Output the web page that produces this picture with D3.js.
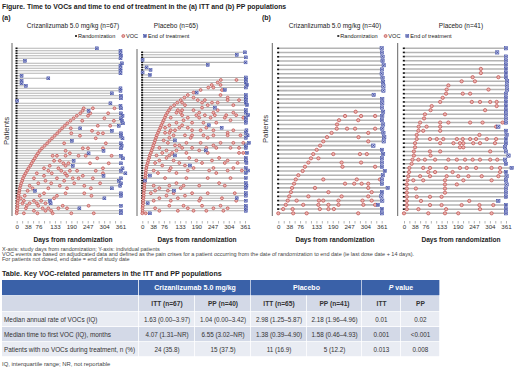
<!DOCTYPE html>
<html>
<head>
<meta charset="utf-8">
<script src="https://cdn.jsdelivr.net/npm/d3@7"></script>
<style>
  body { margin: 0; background: #fff; }
  svg { display: block; font-family: "Liberation Sans", Arial, sans-serif; }
</style>
</head>
<body>
<svg id="chart" width="520" height="368"></svg>
<script>
// each row: [end of treatment day, VOC day, VOC day, ...], listed top to bottom
var critItt = [
  [279],[361],[361],[363],[361],[29],[366],[361],[361],[361],[361],[17],[110],[17],[17],[32],
  [361],[361],[331],[363],[363],[2],[326],[361],
  [363,233,265,340],[250,229],[363,221,256,318],[368,209,248],[363,198,305],[366,187,228,338],
  [370,176],[355,167,282,325],[221,158,188],[331,149,262],[363,141,190,283,300],[363,132,220],
  [368,123,275],[192,114],[363,106,165,310],[365,97],[363,88,230,248,300],[302,80,170],
  [250,74,185],[363,68,125,140,170,215,240,330],[370,63,280],[198,57,130,150],
  [363,52,162,180,255,320],[195,47,115,170],[368,41,95,145,300],[363,36,110,155,185,210,275],
  [378,31,70,122,168,300],[302,26,95,175,230],[363,22,60,140,195,215,265],[355,19,100,165],
  [363,16,75,120,200,290],[360,13,45,150,235],[331,11,55,110,175,258],[64,9,38],
  [363,8,95,170,235],[363,6,28,80,140,260],[305,5,14,130],[116,4,25,60,85],
  [118,3,20,45,70,100],[363,3,35,75,160,250],[218,2,32,90,110,145,175],[363,1,60,100,120],
  [363,0,25,72,125,190,268]
];
var placeboItt = [
  [361],[332],[364],[1],[363],[230],[15],[29],[1],[27],[364],
  [364,276,331],[364,265],[368,244,275],[364,232,250],[290,205,280],[191,180],[364,160,275],
  [364,148,180,300],[364,135,195,220,300,340],[364,123,140,210,245,265],[368,112,150,230,320],
  [255,100,210],[364,94,125,140,180,265],[364,88,120,135,200,250,320],
  [372,83,140,190,220,255,295,330],[364,79,100,160,200,240,290,355],[364,75,145,310],
  [364,71,120,175,215,260],[234,67,95,140],[279,63,80,130,160,225],
  [366,59,100,115,175,205,250,320],[364,55,80,95,300],[370,51,110,150,175,215,250,300,345],
  [364,48,95,170,230],[115,45,75],[375,42,90,155,205,275,320,355],[364,39,115,130,250],
  [364,36,60,140,175,225,260,310,340],[223,33,85,120,200],[368,30,70,105,155,230,340,355],
  [115,26,50,95],[364,24,85,165,270],[364,21,60,110,190,245,300],[366,19,45,130,210,290,335],
  [168,16,70,150],[364,14,100,180,250,320],[372,13,40,95,160,235,300,350],[364,12,55,120,260],
  [27,11],[364,10,80,155,230,310],[10,9],[364,8,120,270],[366,7,40,95,145,200,290],
  [364,7,60,135],[112,6,45,90],[364,5,30,110,175,230,325],[364,5,85,150],
  [332,4,60,125,205,280],[364,3,40,100,200,330],[19,3],[364,2,95,145,210,275],
  [364,1,45,160,250,300],[364,1,60,125,180,225,285],[27,0,12]
];
var critPp = [
  [361],[362],[364],[364],[368],[362],[361],[364],[366],[367],[367],[333],[363],[363],[362],
  [366,270],[363,233,289,338],[362,212,279],[366,205],[363,204,240,268,338],[367,186,314],
  [370,170,280],[368,157,314],[332,146],[362,134],[366,122,192,285,309],[362,114,140],
  [362,105,221,289],[362,93,224,338],[372,85],[365,70],[362,61,157,274,355],
  [362,55,233,265,291,314],[382,48,128,314],[362,44,175,326],[360,38,105,221,314],
  [363,33,64,142,157,210,294,326],[348,26,87,140,175,210,297,338],[362,17,50,145,175,194],
  [362,0,52,99,279]
];
var placeboPp = [
  [361],[330],[361],[361],[361],
  [361,272],[361,272],[361,243,334],[365,204,251],[364,157],[365,151,299],[361,149,208,234],
  [361,137],[361,128,240,269,305,328],[361,98,328],[361,94,287],[361,74,145],[361,71],
  [361,57,128,157,234,278,349],[334,52,80,128,326],[361,51,68,128],[363,45,267],
  [361,45,92,116,139,187,208,234,255,293,326],[361,39,128,175,198,210,245,269,322],
  [358,39,198,210],[361,35,92,128,305],[370,35,94],
  [358,30,51,74,110,157,187,216,243,269,305,330],[361,27],
  [381,19,68,92,149,198,222,255,310,340],[361,18,86,110,172,340],
  [363,15,57,92,151,192,228,275,334],[361,12,33,68,145,210,310],[363,10,145,187],
  [361,10,42,145],[361,10,145],[361,10,45,92,133],[334,10,60,231],[361,10,92,133,204,267,316],
  [361,10,51,149,269],[361,0,86,145,192,310]
];
var panelTitles = ["Crizanlizumab 5.0 mg/kg (n=67)", "Placebo (n=65)", "Crizanlizumab 5.0 mg/kg (n=40)", "Placebo (n=41)"];
var tickDays = d3.range(0, 362, 19);
var tickLabels = [0, 38, 76, 133, 190, 247, 304, 361];

var tableHead = ["Crizanlizumab 5.0 mg/kg", "Placebo", "P value"];
var tableSub = ["ITT (n=67)", "PP (n=40)", "ITT (n=65)", "PP (n=41)", "ITT", "PP"];
var tableLabels = ["Median annual rate of VOCs (IQ)", "Median time to first VOC (IQ), months", "Patients with no VOCs during treatment, n (%)"];
var tableValues = [
  ["1.63 (0.00\u20133.97)", "1.04 (0.00\u20133.42)", "2.98 (1.25\u20135.87)", "2.18 (1.96\u20134.96)", "0.01", "0.02"],
  ["4.07 (1.31\u2013NR)", "6.55 (3.02\u2013NR)", "1.38 (0.39\u20134.90)", "1.58 (0.46\u20134.93)", "0.001", "<0.001"],
  ["24 (35.8)", "15 (37.5)", "11 (16.9)", "5 (12.2)", "0.013", "0.008"]
];

var svg = d3.select("#chart");
svg.append("rect").attr("width", 520).attr("height", 368).attr("fill", "#fff");

svg.append("text").attr("x", 2).attr("y", 8.5)
  .style("font-size", "6.9px").style("font-weight", "bold").attr("fill", "#222")
  .text("Figure. Time to VOCs and time to end of treatment in the (a) ITT and (b) PP populations");
svg.append("text").attr("x", 2).attr("y", 19.5).style("font-size", "7px").style("font-weight", "bold").attr("fill", "#222").text("(a)");
svg.append("text").attr("x", 262).attr("y", 19.5).style("font-size", "7px").style("font-weight", "bold").attr("fill", "#222").text("(b)");

var panels = [
  { data: critItt, x0: 16.7, x1: 120.5, top: 48.3, bot: 213.3, axisX: 12, axisTop: 43, tx: 73, dx: 73, dense: true },
  { data: placeboItt, x0: 142.3, x1: 245, top: 52.3, bot: 213.3, axisX: 137, axisTop: 49, tx: 176, dx: 197, dense: true },
  { data: critPp, x0: 278.3, x1: 381.7, top: 48.3, bot: 213.3, axisX: 272.3, axisTop: 43, tx: 335, dx: 335, dense: false },
  { data: placeboPp, x0: 404, x1: 506, top: 48.3, bot: 213.3, axisX: 397.7, axisTop: 43, tx: 461, dx: 461, dense: false }
];

panels.forEach(function (p, pi) {
  var x = d3.scaleLinear().domain([0, 361]).range([p.x0, p.x1]);
  var y = d3.scaleLinear().domain([0, p.data.length - 1]).range([p.top, p.bot]);
  var g = svg.append("g");
  var lw = p.dense ? 1.1 : 1.6;
  var r = p.dense ? 1.45 : 1.65;
  var s = p.dense ? 2.9 : 3.3;

  svg.append("text").attr("x", p.tx).attr("y", 28).attr("text-anchor", "middle")
    .style("font-size", "6.5px").attr("fill", "#222").text(panelTitles[pi]);

  // y axis line
  g.append("line").attr("x1", p.axisX).attr("x2", p.axisX)
    .attr("y1", p.axisTop).attr("y2", 216).attr("stroke", "#555").attr("stroke-width", 0.9);

  // patient lines
  g.selectAll(".bar").data(p.data).enter().append("line")
    .attr("x1", x(0)).attr("x2", function (d) { return x(d[0]); })
    .attr("y1", function (d, i) { return y(i); }).attr("y2", function (d, i) { return y(i); })
    .attr("stroke", "#b4b4b4").attr("stroke-width", lw);

  // randomization
  g.selectAll(".rnd").data(p.data).enter().append("rect")
    .attr("x", x(0) - 1.2).attr("y", function (d, i) { return y(i) - 0.8; })
    .attr("width", 2).attr("height", 1.6).attr("fill", "#111");

  // VOCs
  var vocs = [];
  p.data.forEach(function (d, i) { d.slice(1).forEach(function (v) { vocs.push([v, i]); }); });
  g.selectAll(".voc").data(vocs).enter().append("circle")
    .attr("cx", function (d) { return x(d[0]); }).attr("cy", function (d) { return y(d[1]); })
    .attr("r", r).attr("fill", "#e9aeab").attr("stroke", "#c0504d").attr("stroke-width", 0.7);

  // end of treatment
  var eot = g.selectAll(".eot").data(p.data).enter().append("g")
    .attr("transform", function (d, i) { return "translate(" + x(d[0]) + "," + y(i) + ")"; });
  eot.append("rect").attr("x", -s / 2).attr("y", -s / 2).attr("width", s).attr("height", s)
    .attr("fill", "#c9cdee").attr("stroke", "#2f3f9e").attr("stroke-width", 0.5);
  eot.append("path").attr("d", "M" + (-s / 2 + 0.5) + "," + (-s / 2 + 0.5) + "L" + (s / 2 - 0.5) + "," + (s / 2 - 0.5) +
      "M" + (s / 2 - 0.5) + "," + (-s / 2 + 0.5) + "L" + (-s / 2 + 0.5) + "," + (s / 2 - 0.5))
    .attr("stroke", "#2b3890").attr("stroke-width", 0.7);

  // x axis
  var ax = g.append("g").attr("transform", "translate(0,221)")
    .call(d3.axisBottom(x).tickValues(tickDays).tickSize(2.5).tickPadding(1.5)
      .tickFormat(function (d) { return tickLabels.indexOf(d) >= 0 ? d : ""; }));
  ax.select(".domain").remove();
  ax.selectAll("line").attr("stroke", "#666").attr("stroke-width", 0.5);
  ax.selectAll("text").style("font-size", "6.2px").attr("fill", "#333").style("font-family", "Liberation Sans, Arial, sans-serif");

  svg.append("text").attr("x", p.dx).attr("y", 241.5).attr("text-anchor", "middle")
    .style("font-size", "6.6px").style("font-weight", "bold").attr("fill", "#222").text("Days from randomization");
});

// legends
function legend(x0) {
  var lg = svg.append("g").attr("transform", "translate(" + x0 + ",36)");
  lg.append("rect").attr("x", -1).attr("y", -0.8).attr("width", 2).attr("height", 1.6).attr("fill", "#111");
  lg.append("text").attr("x", 2).attr("y", 2).style("font-size", "5.6px").attr("fill", "#222").text("Randomization");
  lg.append("circle").attr("cx", 47.3).attr("cy", 0).attr("r", 1.5).attr("fill", "#e9aeab").attr("stroke", "#c0504d").attr("stroke-width", 0.7);
  lg.append("text").attr("x", 50).attr("y", 2).style("font-size", "5.6px").attr("fill", "#222").text("VOC");
  lg.append("rect").attr("x", 67.5).attr("y", -1.5).attr("width", 3).attr("height", 3).attr("fill", "#c9cdee").attr("stroke", "#2f3f9e").attr("stroke-width", 0.5);
  lg.append("path").attr("d", "M68,-1L70,1M70,-1L68,1").attr("stroke", "#2b3890").attr("stroke-width", 0.7);
  lg.append("text").attr("x", 72).attr("y", 2).style("font-size", "5.6px").attr("fill", "#222").text("End of treatment");
}
legend(76);
legend(338.3);

// Patients labels
[[6, 131], [265, 129]].forEach(function (c) {
  svg.append("text").attr("transform", "translate(" + (c[0] + 2.5) + "," + c[1] + ")rotate(-90)")
    .attr("text-anchor", "middle").style("font-size", "7.8px").attr("fill", "#333").text("Patients");
});

// footnotes
var notes = [
  "X-axis: study days from randomization; Y-axis: individual patients",
  "VOC events are based on adjudicated data and defined as the pain crises for a patient occurring from the date of randomization to end date (ie last dose date + 14 days).",
  "For patients not dosed, end date = end of study date"
];
notes.forEach(function (t, i) {
  svg.append("text").attr("x", 2).attr("y", 250.8 + i * 5.3).style("font-size", "5.5px").attr("fill", "#444").text(t);
});

// table
svg.append("text").attr("x", 2).attr("y", 275.5).style("font-size", "7.1px").style("font-weight", "bold").attr("fill", "#222")
  .text("Table. Key VOC-related parameters in the ITT and PP populations");

var colX = [2, 139, 195, 251, 307, 362, 401, 440];
var rowY = [280, 296, 312, 327, 342, 357];
var rowFill = ["#3a61a8", "#d3d9e7", "#e9ecf3", "#d3d9e7", "#e9ecf3"];
var tg = svg.append("g");
for (var ri = 0; ri < 5; ri++) {
  for (var ci = 0; ci < 7; ci++) {
    tg.append("rect").attr("x", colX[ci]).attr("y", rowY[ri])
      .attr("width", colX[ci + 1] - colX[ci] - 0.8).attr("height", rowY[ri + 1] - rowY[ri] - 0.8)
      .attr("fill", rowFill[ri]);
  }
}
// merge header groups
[[139, 251], [251, 362], [362, 440]].forEach(function (sp, i) {
  tg.append("rect").attr("x", sp[0]).attr("y", rowY[0]).attr("width", sp[1] - sp[0] - 0.8)
    .attr("height", rowY[1] - rowY[0] - 0.8).attr("fill", rowFill[0]);
  var t = tg.append("text").attr("x", (sp[0] + sp[1]) / 2).attr("y", 290.2).attr("text-anchor", "middle")
    .style("font-size", "7px").style("font-weight", "bold").attr("fill", "#fff");
  if (i == 2) {
    t.append("tspan").style("font-style", "italic").text("P");
    t.append("tspan").text(" value");
  } else {
    t.text(tableHead[i]);
  }
});
tableSub.forEach(function (t, i) {
  tg.append("text").attr("x", (colX[i + 1] + colX[i + 2]) / 2).attr("y", 306.2).attr("text-anchor", "middle")
    .style("font-size", "6.6px").style("font-weight", "bold").attr("fill", "#333").text(t);
});
tableLabels.forEach(function (lab, i) {
  var yy = (rowY[i + 2] + rowY[i + 3]) / 2 + 2.2;
  tg.append("text").attr("x", 4).attr("y", yy).style("font-size", "6.4px").attr("fill", "#333").text(lab);
  tableValues[i].forEach(function (v, j) {
    tg.append("text").attr("x", (colX[j + 1] + colX[j + 2]) / 2).attr("y", yy).attr("text-anchor", "middle")
      .style("font-size", "6.3px").attr("fill", "#333").text(v);
  });
});
svg.append("text").attr("x", 2).attr("y", 366).style("font-size", "5.9px").attr("fill", "#444")
  .text("IQ, interquartile range; NR, not reportable");
</script>
</body>
</html>
